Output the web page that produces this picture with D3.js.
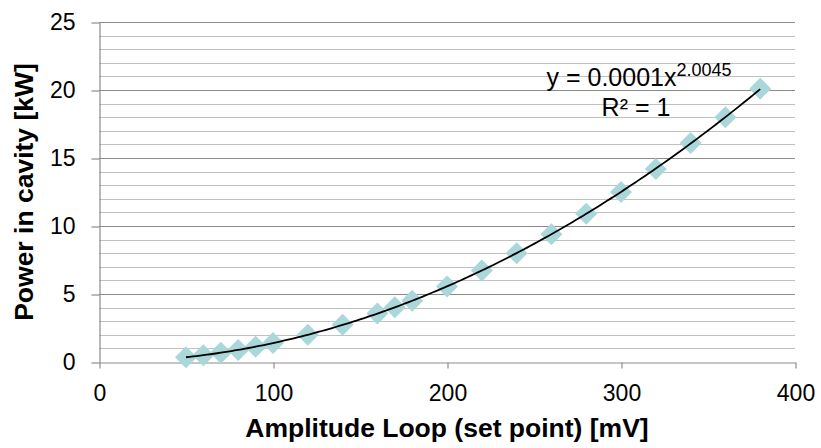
<!DOCTYPE html>
<html lang="en">

<head>
  <meta charset="UTF-8">
  <title>Power in cavity</title>
  <script src="https://d3js.org/d3.v7.min.js"></script>
  <style>
    body { margin: 0; background: #fff; }
    text { font-family: "Liberation Sans", Arial, sans-serif; fill: #000; }
  </style>
</head>

<body>
  <div id="my_dataviz"></div>
  <script>

    // data
    const amplitude = [50, 60, 70, 80, 90, 100, 120, 140, 160, 170, 180, 200, 220, 240, 260, 280, 300, 320, 340, 360, 380];
    const power = [0.35, 0.5, 0.68, 0.89, 1.13, 1.39, 2.0, 2.73, 3.56, 4.02, 4.5, 5.56, 6.73, 8.0, 9.4, 10.9, 12.5, 14.2, 16.1, 18.0, 20.1];
    const xTicks = [0, 100, 200, 300, 400];
    const yTicks = [0, 5, 10, 15, 20, 25];
    const yMinor = d3.range(0, 26, 1);

    const W = 821, H = 448;
    const plotLeft = 99, plotRight = 795, plotTop = 22, plotBottom = 362;

    const svg = d3.select("#my_dataviz")
      .append("svg")
      .attr("width", W)
      .attr("height", H);

    const x = d3.scaleLinear().domain([0, 400]).range([plotLeft, plotRight]);
    const y = d3.scaleLinear().domain([0, 25]).range([plotBottom, plotTop]);

    // minor gridlines
    svg.append("g")
      .selectAll("line")
      .data(yMinor.filter(d => d % 5 !== 0))
      .join("line")
      .attr("x1", plotLeft).attr("x2", plotRight)
      .attr("y1", d => Math.round(y(d)) + 0.5)
      .attr("y2", d => Math.round(y(d)) + 0.5)
      .attr("stroke", "#c0c0c0")
      .attr("stroke-width", 1);

    // major gridlines
    svg.append("g")
      .selectAll("line")
      .data(yTicks.filter(d => d > 0))
      .join("line")
      .attr("x1", plotLeft).attr("x2", plotRight)
      .attr("y1", d => Math.round(y(d)) + 0.5)
      .attr("y2", d => Math.round(y(d)) + 0.5)
      .attr("stroke", "#8c8c8c")
      .attr("stroke-width", 1.2);

    // Y axis
    const yAxis = svg.append("g")
      .attr("transform", `translate(${plotLeft + 0.5},0.5)`)
      .call(d3.axisLeft(y).tickValues(yTicks).tickSize(8).tickSizeOuter(0).tickPadding(16));
    yAxis.select(".domain").attr("stroke", "#8c8c8c").attr("stroke-width", 1.2);
    yAxis.selectAll(".tick line").attr("stroke", "#8c8c8c").attr("stroke-width", 1.2);
    yAxis.selectAll(".tick text")
      .attr("font-family", "Liberation Sans, Arial, sans-serif")
      .attr("font-size", 23)
      .attr("fill", "#000");

    // X axis
    const xAxis = svg.append("g")
      .attr("transform", `translate(0.5,${plotBottom + 0.5})`)
      .call(d3.axisBottom(x).tickValues(xTicks).tickSize(6).tickSizeOuter(0).tickPadding(16));
    xAxis.select(".domain").attr("stroke", "#8c8c8c").attr("stroke-width", 1.2);
    xAxis.selectAll(".tick line").attr("stroke", "#8c8c8c").attr("stroke-width", 1.2);
    xAxis.selectAll(".tick text")
      .attr("font-family", "Liberation Sans, Arial, sans-serif")
      .attr("font-size", 23)
      .attr("fill", "#000");

    // markers (diamonds)
    const r = 11;
    svg.append("g")
      .selectAll("path")
      .data(amplitude)
      .join("path")
      .attr("transform", (d, i) => `translate(${x(d)},${y(power[i])})`)
      .attr("d", `M0,${-r}L${r},0L0,${r}L${-r},0Z`)
      .attr("fill", "#a9d7da");

    // power trendline, fitted on log-log data
    const lx = amplitude.map(Math.log), ly = power.map(Math.log);
    const mx = d3.mean(lx), my = d3.mean(ly);
    const b = d3.sum(lx, (v, i) => (v - mx) * (ly[i] - my)) / d3.sum(lx, v => (v - mx) ** 2);
    const a = Math.exp(my - b * mx);
    const trend = d3.range(amplitude[0], amplitude[amplitude.length - 1] + 0.1, 2);
    svg.append("path")
      .datum(trend)
      .attr("fill", "none")
      .attr("stroke", "#000")
      .attr("stroke-width", 1.8)
      .attr("d", d3.line()
        .x(d => x(d))
        .y(d => y(a * Math.pow(d, b)))
      );

    // equation label
    const eq = svg.append("text")
      .attr("x", 639)
      .attr("y", 86)
      .attr("text-anchor", "middle")
      .attr("font-size", 25);
    eq.append("tspan").text("y = 0.0001x");
    eq.append("tspan").attr("dy", -10).attr("font-size", 18).text("2.0045");

    svg.append("text")
      .attr("x", 636)
      .attr("y", 116)
      .attr("text-anchor", "middle")
      .attr("font-size", 25)
      .text("R² = 1");

    // axis titles
    svg.append("text")
      .attr("x", (plotLeft + plotRight) / 2)
      .attr("y", 437)
      .attr("text-anchor", "middle")
      .attr("font-size", 26.5)
      .attr("font-weight", "bold")
      .text("Amplitude Loop (set point) [mV]");

    svg.append("text")
      .attr("transform", `translate(33,${(plotTop + plotBottom) / 2}) rotate(-90)`)
      .attr("text-anchor", "middle")
      .attr("font-size", 26.5)
      .attr("font-weight", "bold")
      .text("Power in cavity [kW]");

  </script>
</body>

</html>
